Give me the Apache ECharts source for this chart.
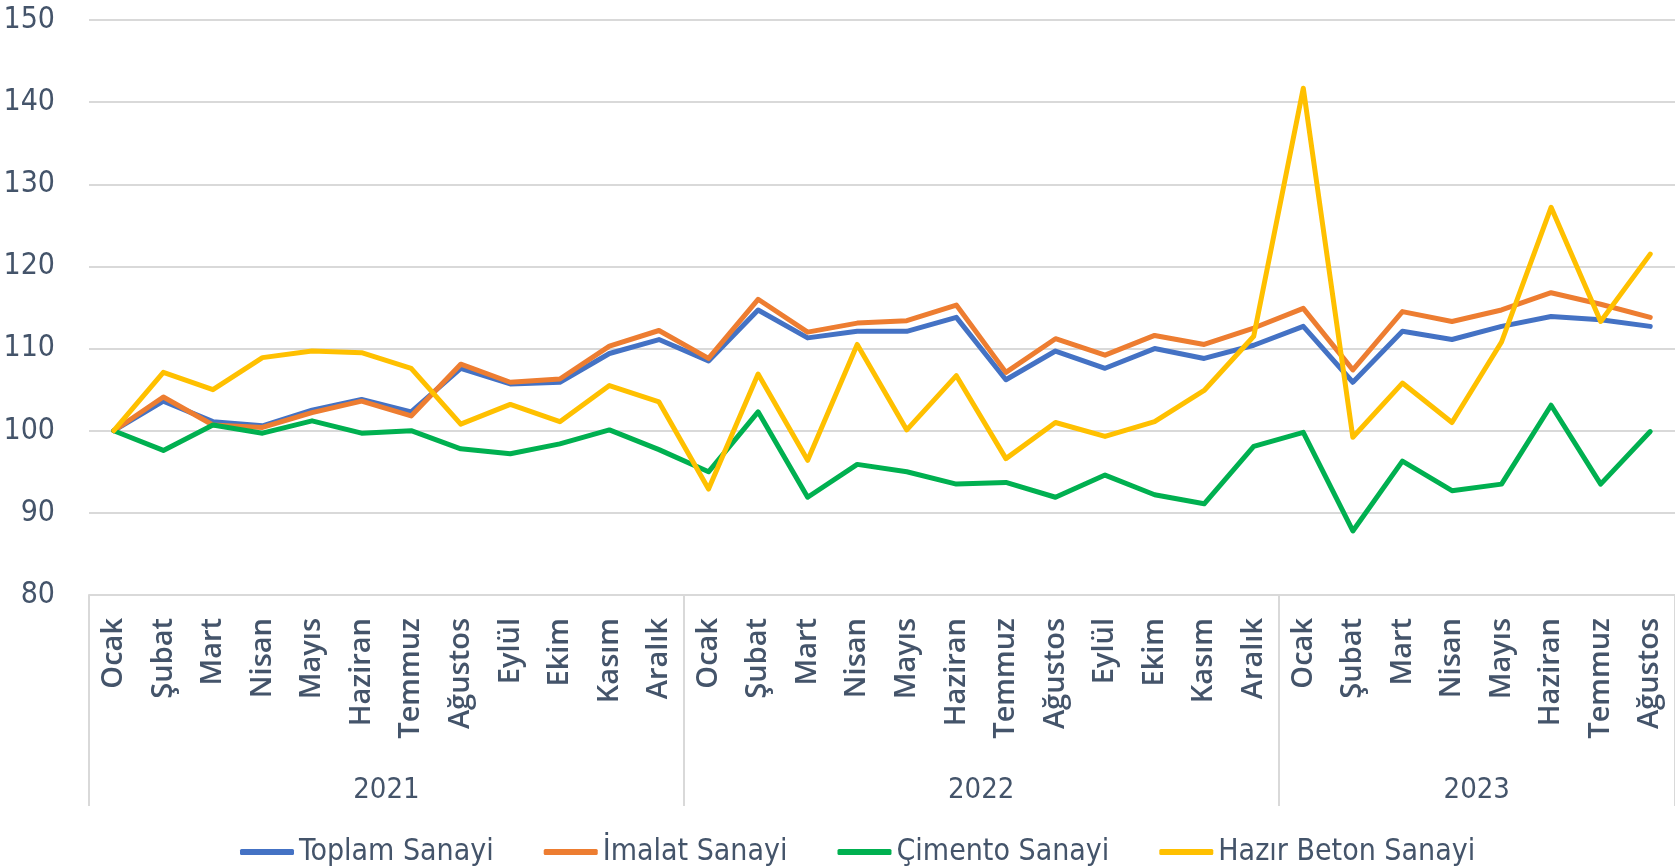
<!DOCTYPE html>
<html>
<head>
<meta charset="utf-8">
<script src="https://cdn.jsdelivr.net/npm/echarts@6/dist/echarts.min.js"></script>
<style>
html,body{margin:0;padding:0;background:#fff;}
#chart{width:1675px;height:868px;}
</style>
</head>
<body>
<div id="chart"></div>
<script>
const months = ['Ocak','Şubat','Mart','Nisan','Mayıs','Haziran','Temmuz','Ağustos','Eylül','Ekim','Kasım','Aralık',
  'Ocak','Şubat','Mart','Nisan','Mayıs','Haziran','Temmuz','Ağustos','Eylül','Ekim','Kasım','Aralık',
  'Ocak','Şubat','Mart','Nisan','Mayıs','Haziran','Temmuz','Ağustos'];
const years = ['2021','2022','2023'];
const yearStarts = [0,12,24,32];
const yearCenters = [6,18,28];

const toplam = [100,103.6,101.1,100.6,102.5,103.8,102.3,107.6,105.7,105.9,109.4,111.1,
  108.5,114.7,111.3,112.1,112.1,113.8,106.2,109.7,107.6,110.0,108.8,110.4,
  112.7,105.9,112.1,111.1,112.7,113.9,113.5,112.7];
const imalat = [100,104.1,100.7,100.4,102.2,103.6,101.8,108.1,105.9,106.3,110.3,112.2,
  108.8,116.0,112.0,113.1,113.4,115.3,107.1,111.2,109.2,111.6,110.5,112.5,
  114.9,107.4,114.5,113.3,114.7,116.8,115.4,113.8];
const cimento = [100,97.6,100.7,99.7,101.2,99.7,100.0,97.8,97.2,98.4,100.1,97.7,
  95.0,102.3,91.9,95.9,95.0,93.5,93.7,91.9,94.6,92.2,91.1,98.1,
  99.8,87.8,96.3,92.7,93.5,103.1,93.5,99.9];
const hazirBeton = [100,107.1,105.0,108.9,109.7,109.5,107.6,100.8,103.2,101.1,105.5,103.5,
  92.9,106.9,96.4,110.5,100.1,106.7,96.6,101.0,99.3,101.1,104.9,111.5,
  141.7,99.2,105.8,101.0,110.8,127.2,113.3,121.5];
const seriesNames = ['Toplam Sanayi','İmalat Sanayi','Çimento Sanayi','Hazır Beton Sanayi'];
const yTicks = {min:80, max:150, interval:10};

const colors = ['#4472C4','#ED7D31','#00B050','#FFC000'];
const txt = '#44546A';
const narrow = '"Liberation Sans Narrow","DejaVu Sans Condensed","Liberation Sans",sans-serif';

const chart = echarts.init(document.getElementById('chart'));
const datas = [toplam, imalat, cimento, hazirBeton];
chart.setOption({
  animation:false,
  color:colors,
  grid:{left:89, top:20, width:1597, height:575, containLabel:false},
  legend:{
    data:seriesNames, left:235, top:832, icon:'roundRect',
    itemWidth:54, itemHeight:6, itemGap:50,
    textStyle:{fontFamily:narrow, fontSize:30, color:txt}
  },
  xAxis:[
    {type:'category', data:months, boundaryGap:true,
     axisLine:{show:true, lineStyle:{color:'#D9D9D9', width:2}},
     axisTick:{show:false},
     axisLabel:{rotate:90, interval:0, margin:23, fontFamily:'"Open Sans",sans-serif', fontWeight:600, fontSize:29, color:txt}
    },
    {type:'value', min:0, max:32, position:'bottom',
     axisLine:{show:false}, splitLine:{show:false},
     axisTick:{show:true, customValues:yearStarts, length:211, lineStyle:{color:'#D9D9D9', width:2}},
     axisLabel:{show:true, customValues:yearCenters, margin:181,
       formatter:function(v){return years[yearCenters.indexOf(v)];},
       fontFamily:narrow, fontSize:29, color:txt}
    }
  ],
  yAxis:{type:'value', min:yTicks.min, max:yTicks.max, interval:yTicks.interval,
    axisLine:{show:false}, axisTick:{show:false},
    splitLine:{lineStyle:{color:'#D9D9D9', width:2}},
    axisLabel:{margin:34, fontFamily:narrow, fontSize:30, color:txt}
  },
  series: seriesNames.map((n,i)=>({
    name:n, type:'line', data:datas[i], xAxisIndex:0, symbol:'none',
    lineStyle:{width:5, color:colors[i], cap:'round', join:'round'}
  }))
});
</script>
</body>
</html>
